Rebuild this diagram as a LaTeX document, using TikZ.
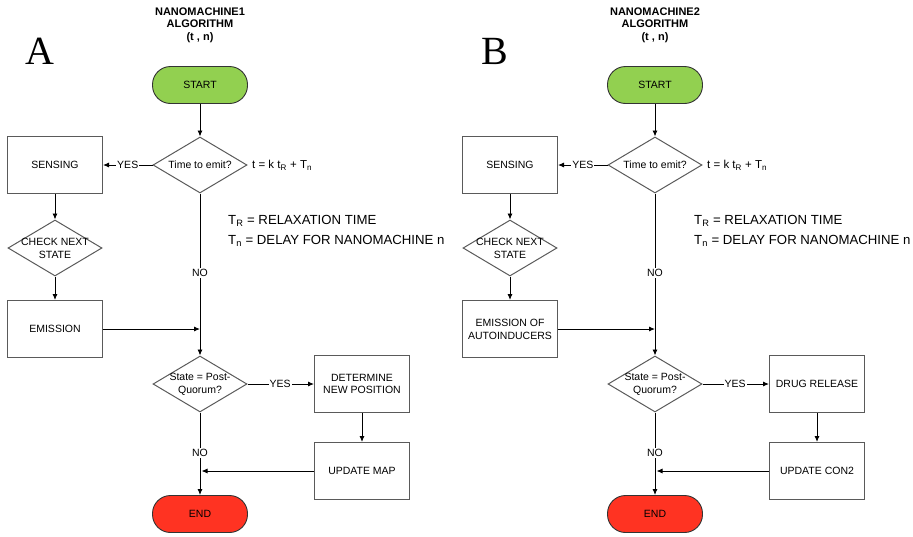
\documentclass[tikz,border=0pt]{standalone}
\usepackage{fontspec}
\setmainfont{Liberation Sans}
\newfontfamily\panelletterfont{Liberation Serif}
\usetikzlibrary{shapes.geometric,arrows.meta}

\definecolor{startgreen}{HTML}{92D050}
\definecolor{endred}{HTML}{FF3322}
\definecolor{shapeline}{HTML}{5A5A5A}

\tikzset{
  base/.style={font=\fontsize{10.5}{12.8}\selectfont, align=center, inner sep=0pt},
  term/.style={base, rectangle, draw=black!80, line width=0.9pt,
    rounded corners=18pt, minimum width=95pt, minimum height=37pt},
  proc/.style={base, rectangle, draw=shapeline, line width=1pt,
    minimum width=95pt, minimum height=57pt},
  dec/.style={diamond, draw=shapeline, line width=1pt, inner sep=0pt,
    minimum width=94pt, minimum height=56pt},
  dectext/.style={base},
  flow/.style={draw=black, line width=0.9pt, -{Latex[length=6pt,width=5pt]}},
  lbl/.style={base, fill=white, inner sep=1pt},
  note/.style={font=\fontsize{13.2}{15}\selectfont, anchor=west, inner sep=0pt},
  formula/.style={font=\fontsize{11.5}{14}\selectfont, anchor=west, inner sep=0pt},
  heading/.style={font=\bfseries\fontsize{11}{12.6}\selectfont, align=center, inner sep=0pt},
  panelletter/.style={font=\panelletterfont\fontsize{40}{40}\selectfont, inner sep=0pt},
}

% One flowchart panel:
% #1 name prefix, #2 horizontal offset, #3 panel letter, #4 machine number,
% #5 emission box text, #6 post-quorum action, #7 update box text,
% #8 extra offset of the legend lines
\newcommand\flowpanel[8]{%
\begin{scope}[xshift=#2pt]
  \node[heading] (#1-title) at (200,25) {NANOMACHINE#4\\ALGORITHM\\(t , n)};
  \node[panelletter] (#1-letter) at (40,51) {#3};

  \node[term, fill=startgreen] (#1-start) at (200,85) {START};
  \node[dec, label={[dectext]center:Time to emit?}] (#1-q1) at (200,165) {};
  \node[proc] (#1-sense) at (55,165) {SENSING};
  \node[dec, label={[dectext]center:{CHECK NEXT\\STATE}}] (#1-check) at (55,248) {};
  \node[proc] (#1-emit) at (55,329) {#5};
  \node[dec, label={[dectext]center:{State = Post-\\Quorum?}}] (#1-q2) at (200,384) {};
  \node[proc] (#1-act) at (362,384) {#6};
  \node[proc] (#1-upd) at (362,471) {#7};
  \node[term, fill=endred] (#1-stop) at (200,514) {END};

  \node[formula] (#1-rule) at (252,165) {t = k t\textsubscript{R} + T\textsubscript{n}};
  \node[note] (#1-trel) at (228+#8,221) {T\textsubscript{R} = RELAXATION TIME};
  \node[note] (#1-tdel) at (228+#8,241) {T\textsubscript{n} = DELAY FOR NANOMACHINE n};

  \draw[flow] (#1-start) -- (#1-q1);
  \draw[flow] (#1-q1) -- node[lbl, pos=0.5] {YES} (#1-sense);
  \draw[flow] (#1-sense) -- (#1-check);
  \draw[flow] (#1-check) -- (#1-emit);
  \draw[flow] (#1-q1.south) -- node[lbl, pos=0.49] {NO} (#1-q2.north);
  \draw[flow] (#1-emit.east) -- (#1-emit.east -| #1-q1.south);
  \draw[flow] (#1-q2) -- node[lbl, pos=0.49] {YES} (#1-act);
  \draw[flow] (#1-act) -- (#1-upd);
  \draw[flow] (#1-q2.south) -- node[lbl, pos=0.49] {NO} (#1-stop.north);
  \draw[flow] (#1-upd.west) -- ([xshift=1.5pt]#1-upd.west -| #1-q2.south);
\end{scope}}

\begin{document}
\begin{tikzpicture}[x=1pt, y=-1pt]
  \useasboundingbox (0,0) rectangle (913,536);
  \flowpanel{a}{0}{A}{1}{EMISSION}{DETERMINE\\NEW POSITION}{UPDATE MAP}{0}
  \flowpanel{b}{455}{B}{2}{EMISSION OF\\AUTOINDUCERS}{DRUG RELEASE}{UPDATE CON2}{11}
\end{tikzpicture}
\end{document}
